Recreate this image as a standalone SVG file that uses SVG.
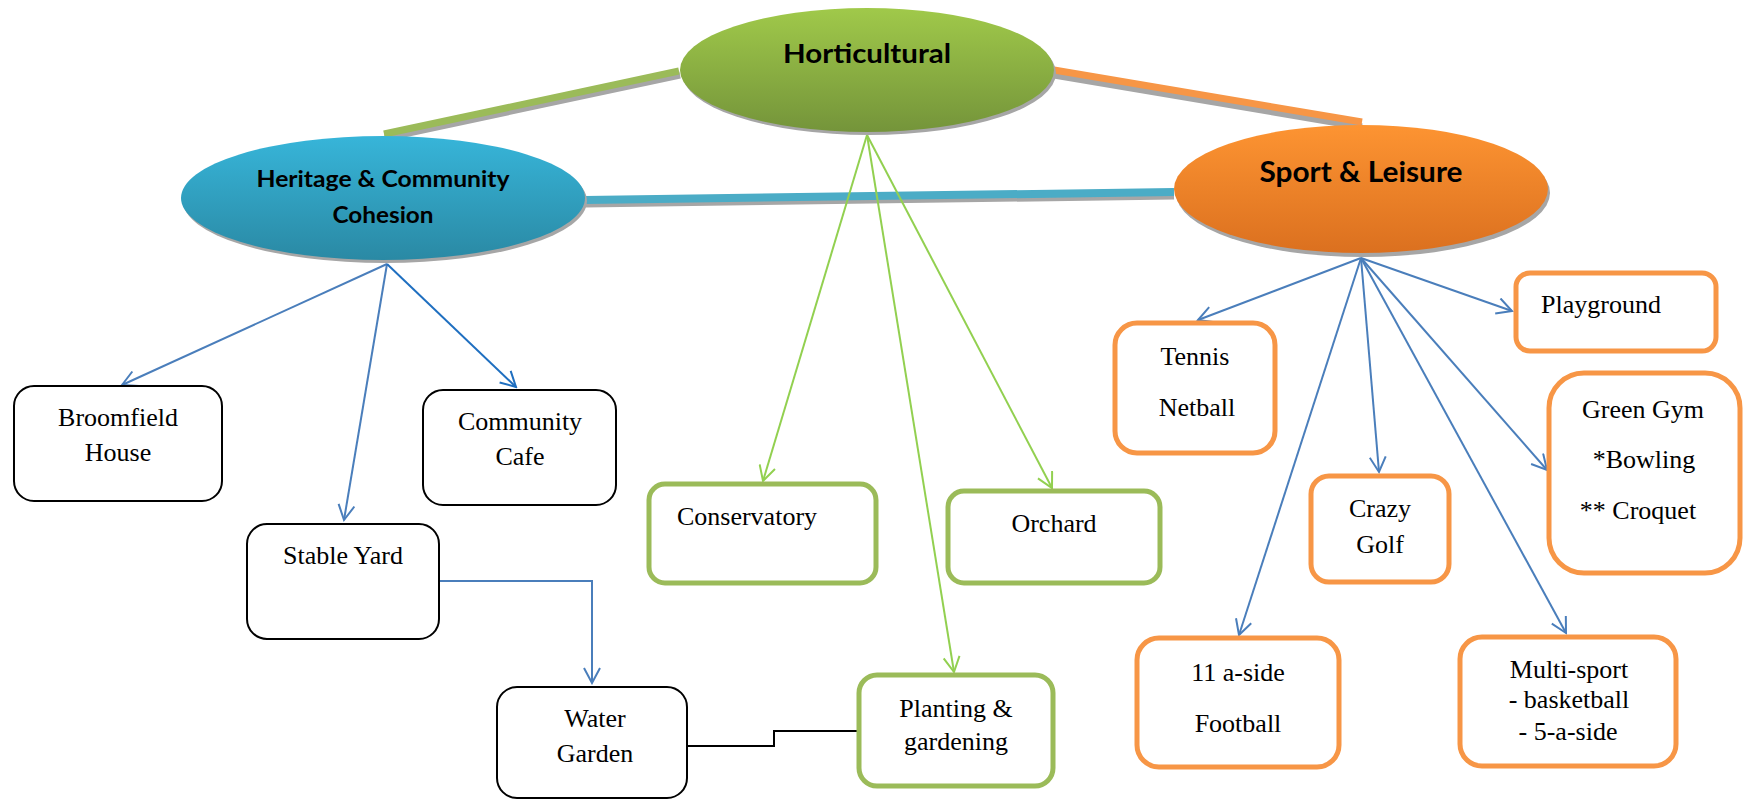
<svg xmlns="http://www.w3.org/2000/svg" width="1758" height="800" viewBox="0 0 1758 800">
<defs>
  <linearGradient id="gGreen" x1="0" y1="0" x2="0" y2="1"><stop offset="0" stop-color="#a0c94a"/><stop offset="1" stop-color="#74943a"/></linearGradient>
  <linearGradient id="gBlue" x1="0" y1="0" x2="0" y2="1"><stop offset="0" stop-color="#37b5d9"/><stop offset="1" stop-color="#2a89a4"/></linearGradient>
  <linearGradient id="gOrange" x1="0" y1="0" x2="0" y2="1"><stop offset="0" stop-color="#fd9432"/><stop offset="1" stop-color="#db701f"/></linearGradient>
  <marker id="mb" viewBox="0 0 18 18" markerWidth="18" markerHeight="18" refX="16" refY="9" orient="auto" markerUnits="userSpaceOnUse"><path d="M1,1 L16,9 L1,17" fill="none" stroke="#4a7ebb" stroke-width="2"/></marker>
  <marker id="mc" viewBox="0 0 18 18" markerWidth="18" markerHeight="18" refX="16" refY="9" orient="auto" markerUnits="userSpaceOnUse"><path d="M1,1 L16,9 L1,17" fill="none" stroke="#1f6fc0" stroke-width="2"/></marker>
  <marker id="mg" viewBox="0 0 18 18" markerWidth="18" markerHeight="18" refX="16" refY="9" orient="auto" markerUnits="userSpaceOnUse"><path d="M1,1 L16,9 L1,17" fill="none" stroke="#92d050" stroke-width="2"/></marker>
</defs>
<style>
  .sh{fill:#a6a6a6}
  .hub{font-family:Lato,"Liberation Sans",sans-serif;font-weight:bold;fill:#000;text-anchor:middle}
  .lbl{font-family:"Liberation Serif","Times New Roman",serif;font-size:26px;fill:#000;text-anchor:middle}
  .lbl.st{text-anchor:start}
  .bk{fill:#fff;stroke:#000;stroke-width:2}
  .gr{fill:#fff;stroke:#9bbb59;stroke-width:5}
  .or{fill:#fff;stroke:#f79646;stroke-width:5}
  .ab{fill:none;stroke:#4a7ebb;stroke-width:2;marker-end:url(#mb)}
  .ac{fill:none;stroke:#1f6fc0;stroke-width:2;marker-end:url(#mc)}
  .ag{fill:none;stroke:#92d050;stroke-width:2;marker-end:url(#mg)}
  .tsh{stroke:#a6a6a6;stroke-width:7}
</style>
<rect width="1758" height="800" fill="#fff"/>

<g id="connectors">
  <line class="tsh" x1="385" y1="138" x2="680" y2="75"/>
  <line x1="384" y1="134" x2="679" y2="71" stroke="#9bbb59" stroke-width="7"/>
  <line class="tsh" x1="1054" y1="75" x2="1362" y2="127"/>
  <line x1="1054" y1="70" x2="1362" y2="122" stroke="#f79646" stroke-width="7"/>
  <line class="tsh" x1="585" y1="204" x2="1174" y2="196"/>
  <line x1="585" y1="200" x2="1174" y2="192" stroke="#4bacc6" stroke-width="8"/>

  <line class="ab" x1="387" y1="264" x2="122" y2="385"/>
  <line class="ab" x1="387" y1="264" x2="344" y2="520"/>
  <line class="ac" x1="387" y1="264" x2="516" y2="387"/>
  <path class="ab" d="M439,581 H592 V683"/>

  <line class="ag" x1="867" y1="135" x2="763" y2="481"/>
  <line class="ag" x1="867" y1="135" x2="954" y2="672"/>
  <line class="ag" x1="867" y1="135" x2="1052" y2="488"/>

  <line class="ab" x1="1361" y1="258" x2="1198" y2="320"/>
  <line class="ab" x1="1361" y1="258" x2="1512" y2="311"/>
  <line class="ab" x1="1361" y1="258" x2="1379" y2="472"/>
  <line class="ab" x1="1361" y1="258" x2="1547" y2="470"/>
  <line class="ab" x1="1361" y1="258" x2="1239" y2="635"/>
  <line class="ab" x1="1361" y1="258" x2="1566" y2="633"/>

  <path d="M688,746 H774 V731 H860" fill="none" stroke="#000" stroke-width="2"/>
</g>

<g id="horticultural">
  <ellipse class="sh" cx="869" cy="73" rx="187" ry="62"/>
  <ellipse cx="867" cy="70" rx="187" ry="62" fill="url(#gGreen)"/>
  <text class="hub" x="867" y="63" font-size="27" textLength="168" lengthAdjust="spacingAndGlyphs">Horticultural</text>
</g>
<g id="heritage">
  <ellipse class="sh" cx="385" cy="201" rx="202" ry="62"/>
  <ellipse cx="383" cy="198" rx="202" ry="62" fill="url(#gBlue)"/>
  <text class="hub" x="383" y="187" font-size="22" textLength="253" lengthAdjust="spacingAndGlyphs">Heritage &amp; Community</text>
  <text class="hub" x="383" y="223" font-size="22" textLength="101" lengthAdjust="spacingAndGlyphs">Cohesion</text>
</g>
<g id="sport">
  <ellipse class="sh" cx="1363" cy="193" rx="187" ry="64"/>
  <ellipse cx="1361" cy="189" rx="187" ry="64" fill="url(#gOrange)"/>
  <text class="hub" x="1361" y="182" font-size="28" textLength="203" lengthAdjust="spacingAndGlyphs">Sport &amp; Leisure</text>
</g>

<g id="broomfield">
  <rect class="bk" x="14" y="386" width="208" height="115" rx="20"/>
  <text class="lbl" x="118" y="426">Broomfield</text>
  <text class="lbl" x="118" y="461">House</text>
</g>
<g id="cafe">
  <rect class="bk" x="423" y="390" width="193" height="115" rx="20"/>
  <text class="lbl" x="520" y="430">Community</text>
  <text class="lbl" x="520" y="465">Cafe</text>
</g>
<g id="stable">
  <rect class="bk" x="247" y="524" width="192" height="115" rx="20"/>
  <text class="lbl" x="343" y="564">Stable Yard</text>
</g>
<g id="water">
  <rect class="bk" x="497" y="687" width="190" height="111" rx="20"/>
  <text class="lbl" x="595" y="727">Water</text>
  <text class="lbl" x="595" y="762">Garden</text>
</g>

<g id="conservatory">
  <rect class="gr" x="649" y="484" width="227" height="99" rx="16"/>
  <text class="lbl" x="747" y="525">Conservatory</text>
</g>
<g id="orchard">
  <rect class="gr" x="948" y="491" width="212" height="92" rx="16"/>
  <text class="lbl" x="1054" y="532">Orchard</text>
</g>
<g id="planting">
  <rect class="gr" x="859" y="675" width="194" height="111" rx="18"/>
  <text class="lbl" x="956" y="717">Planting &amp;</text>
  <text class="lbl" x="956" y="750">gardening</text>
</g>

<g id="tennis">
  <rect class="or" x="1115" y="323" width="160" height="130" rx="22"/>
  <text class="lbl" x="1195" y="365">Tennis</text>
  <text class="lbl" x="1197" y="416">Netball</text>
</g>
<g id="playground">
  <rect class="or" x="1516" y="273" width="200" height="78" rx="14"/>
  <text class="lbl st" x="1541" y="313">Playground</text>
</g>
<g id="crazygolf">
  <rect class="or" x="1311" y="476" width="138" height="106" rx="18"/>
  <text class="lbl" x="1380" y="517">Crazy</text>
  <text class="lbl" x="1380" y="553">Golf</text>
</g>
<g id="greengym">
  <rect class="or" x="1549" y="373" width="191" height="200" rx="35"/>
  <text class="lbl" x="1643" y="418">Green Gym</text>
  <text class="lbl" x="1644" y="468">*Bowling</text>
  <text class="lbl" x="1638" y="519">** Croquet</text>
</g>
<g id="football">
  <rect class="or" x="1137" y="638" width="202" height="129" rx="22"/>
  <text class="lbl" x="1238" y="681">11 a-side</text>
  <text class="lbl" x="1238" y="732">Football</text>
</g>
<g id="multisport">
  <rect class="or" x="1460" y="637" width="216" height="129" rx="22"/>
  <text class="lbl" x="1569" y="678">Multi-sport</text>
  <text class="lbl" x="1569" y="708">- basketball</text>
  <text class="lbl" x="1568" y="740">- 5-a-side</text>
</g>
</svg>
